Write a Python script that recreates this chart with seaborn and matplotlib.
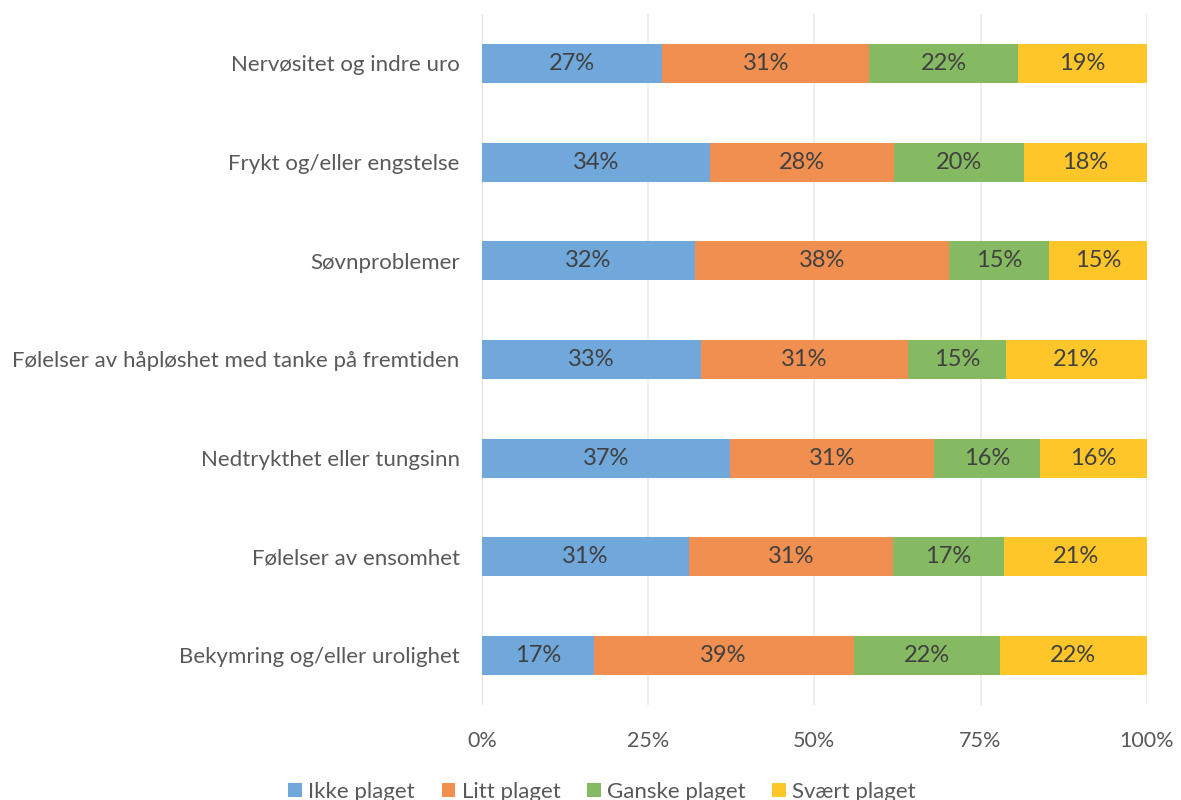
import numpy as np
import pandas as pd
import seaborn as sns
import matplotlib.pyplot as plt

categories = [
    "Nervøsitet og indre uro",
    "Frykt og/eller engstelse",
    "Søvnproblemer",
    "Følelser av håpløshet med tanke på fremtiden",
    "Nedtrykthet eller tungsinn",
    "Følelser av ensomhet",
    "Bekymring og/eller urolighet",
]
series = ["Ikke plaget", "Litt plaget", "Ganske plaget", "Svært plaget"]
ikke = [27.1, 34.3, 32.0, 32.9, 37.3, 31.1, 16.8]
litt = [31.2, 27.7, 38.2, 31.2, 30.7, 30.7, 39.1]
ganske = [22.3, 19.5, 15.1, 14.7, 16.0, 16.8, 22.0]
svaert = [19.4, 18.5, 14.7, 21.2, 16.0, 21.4, 22.1]
colors = ["#70A8DB", "#F08F4F", "#86BA62", "#FFC629"]
xticks = [0, 25, 50, 75, 100]

sns.set_theme(style="white")
plt.rcParams['font.family'] = ['Lato', 'DejaVu Sans']

vals = np.array([ikke, litt, ganske, svaert])
cum = np.cumsum(vals, axis=0)

fig = plt.figure(figsize=(11.81, 8.0), dpi=100)
ax = fig.add_axes([0.408, 0.119, 0.563, 0.8635])

# stacked by layering cumulative totals, widest first
for i in range(3, -1, -1):
    df = pd.DataFrame({'cat': categories, 'val': cum[i]})
    sns.barplot(data=df, x='val', y='cat', orient='h', color=colors[i],
                saturation=1, width=0.395, linewidth=0, ax=ax,
                label=series[i], zorder=3)

for i in range(4):
    starts = cum[i] - vals[i]
    for j, c in enumerate(categories):
        ax.text(starts[j] + vals[i][j] / 2, j, f"{round(vals[i][j]):.0f}%",
                ha='center', va='center', fontsize=17, color='#404040', zorder=4)

ax.set_xlim(0, 100)
ax.set_ylim(6.5, -0.5)
ax.set_xticks(xticks)
ax.set_xticklabels([f"{t}%" for t in xticks])
ax.set_xlabel("")
ax.set_ylabel("")
for t in xticks:
    ax.axvline(t, color='#D9D9D9' if t == 0 else '#EBEBEB', lw=1.2, zorder=1)
for s in ax.spines.values():
    s.set_visible(False)
ax.tick_params(axis='x', length=0, pad=19, labelsize=15.5, labelcolor='#595959')
ax.tick_params(axis='y', length=0, pad=16, labelsize=16, labelcolor='#595959')

handles, labels = ax.get_legend_handles_labels()
order = [labels.index(s) for s in series]
leg = fig.legend([handles[k] for k in order], series, loc='center',
                 bbox_to_anchor=(0.51, 0.01), ncol=4, frameon=False,
                 fontsize=16, handlelength=0.6, handleheight=0.6,
                 handletextpad=0.3, columnspacing=1.2)
for t in leg.get_texts():
    t.set_color('#595959')
if ax.get_legend():
    ax.get_legend().remove()

fig.savefig("out.png", dpi=100)
